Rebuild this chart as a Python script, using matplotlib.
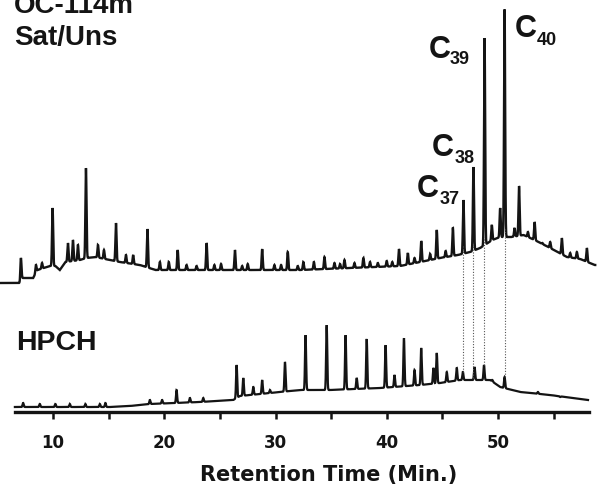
import numpy as np
import matplotlib
matplotlib.use("Agg")
import matplotlib.pyplot as plt

# ---------------- data (retention time in min, intensity in arbitrary units) -------------
# upper trace: OC-114m Sat/Uns
upper_base_t = [5.2, 7.0, 7.2, 8.2, 8.6, 9.7, 10.2, 10.6, 11.1, 12.4, 13.0, 13.8, 15.1, 16.0,
                17.8, 19.2, 32.2, 41.2, 44.8, 46.4, 47.5, 48.4, 49.5, 50.2, 51.2, 52.3, 53.3,
                54.7, 56.2, 57.4, 58.7]
upper_base_i = [128, 128, 133, 133, 141, 145, 145, 141, 149, 151, 153, 154, 151, 149,
                146, 141, 141, 145, 153, 156, 159, 163, 171, 174, 174, 176, 171,
                163, 154, 152, 146]
upper_peak_t = [7.1, 8.45, 9.0, 9.95, 11.33, 11.78, 12.23, 12.95, 14.03, 14.57, 15.65, 16.55,
                17.2, 18.48, 19.6, 20.4, 21.2, 22.0, 22.9, 23.8, 24.5, 25.1, 26.35, 27.0,
                27.5, 28.8, 29.9, 30.5, 31.1, 32.0, 32.5, 33.45, 34.4, 35.3, 35.8, 36.2,
                37.1, 37.9, 38.5, 39.2, 40.0, 40.5, 41.1, 41.9, 42.5, 43.1, 43.9, 44.5,
                45.3, 45.95, 46.9, 47.8, 48.8, 49.45, 50.2, 50.6, 51.5, 51.9, 52.7, 53.3,
                54.0, 54.7, 55.75, 56.5, 57.1, 58.0]
upper_peak_i = [153, 146, 148, 203, 168, 171, 166, 243, 166, 161, 188, 156,
                156, 182, 149, 149, 161, 146, 145, 168, 146, 147, 161, 145,
                147, 162, 146, 146, 159, 145, 149, 149, 154, 148, 147, 151,
                148, 153, 149, 148, 150, 149, 162, 158, 153, 170, 157, 181,
                160, 183, 211, 244, 373, 186, 203, 402, 183, 225, 179, 189,
                168, 169, 173, 158, 159, 163]

# lower trace: HPCH
lower_base_t = [6.56, 15.1, 16.9, 18.7, 23.2, 26.2, 26.8, 29.5, 32.2, 34.9, 39.4, 43.0, 44.8,
                46.6, 49.3, 50.2, 52.0, 54.7, 57.4, 58.1]
lower_base_i = [4, 4, 5, 7, 9, 11, 15, 18, 21, 21, 23, 26, 28,
                31, 31, 24, 19, 16, 12, 11]
lower_peak_t = [7.3, 8.8, 10.2, 11.5, 12.9, 14.2, 14.7, 18.7, 19.8, 21.1, 22.3, 23.5,
                26.5, 27.1, 28.0, 28.8, 29.5, 30.85, 32.7, 34.6, 36.3, 37.3, 38.2, 39.9,
                40.7, 41.55, 42.5, 43.1, 44.2, 44.5, 45.4, 46.3, 46.85, 47.9, 48.75, 49.5,
                50.6, 53.6, 55.6]
lower_peak_i = [8, 7, 7, 7, 7, 7, 8, 11, 11, 21, 13, 13,
                46, 33, 24, 31, 21, 49, 76, 86, 76, 33, 72, 66,
                36, 73, 41, 63, 43, 58, 39, 43, 39, 44, 46, 31,
                34, 19, 14]

# alkenone peaks linked between the traces
marker_t = [46.85, 47.8, 48.75, 50.6]
marker_labels = ["37", "38", "39", "40"]

xticks_major = [10, 20, 30, 40, 50]
xticks_minor = [15, 25, 35, 45, 55]

# ---------------- drawing -------------------------------------------------------------
W, H = 602, 493
fig = plt.figure(figsize=(W / 100, H / 100), dpi=100)
ax = fig.add_axes([0, 81 / H, 1, 412 / H])
ax.set_xlim(5.22, 59.36)
ax.set_ylim(-1, 411)

FONT = "Liberation Sans"
WIDE = "DejaVu Sans"
INK = "#141414"


def trace(base_t, base_i, peak_t, peak_i, t0, t1, sigma=0.05):
    t = np.linspace(t0, t1, 6000)
    y = np.interp(t, base_t, base_i)
    for tp, ip in zip(peak_t, peak_i):
        h = ip - np.interp(tp, base_t, base_i)
        y = y + h * np.exp(-0.5 * ((t - tp) / sigma) ** 2)
    return t, y


tu, yu = trace(upper_base_t, upper_base_i, upper_peak_t, upper_peak_i, 5.22, 58.75)
tl, yl = trace(lower_base_t, lower_base_i, lower_peak_t, lower_peak_i, 6.56, 58.1)

ax.plot(tu, yu, color=INK, lw=1.7, solid_joinstyle="miter")
ax.plot(tl, yl, color=INK, lw=1.6, solid_joinstyle="miter")

# dotted connectors
for tm in marker_t:
    ylow = np.interp(tm, tl, yl)
    yhigh = np.interp(tm, upper_base_t, upper_base_i) + 8
    ax.vlines(tm, ylow, yhigh, colors="#555555", linestyles=(0, (1, 1.5)), lw=0.8)

for s in ["left", "right", "top"]:
    ax.spines[s].set_visible(False)
ax.spines["bottom"].set_linewidth(2.4)
ax.spines["bottom"].set_color(INK)
ax.spines["bottom"].set_bounds(6.6, 58.2)
ax.set_yticks([])
ax.set_xticks(xticks_major)
ax.set_xticks(xticks_minor, minor=True)
ax.tick_params(axis="x", which="both", direction="out", length=5, width=1.8, color=INK)
ax.tick_params(axis="x", which="major", pad=11, labelsize=12)
for lab in ax.get_xticklabels():
    lab.set_fontfamily(WIDE)
    lab.set_fontweight("bold")
    lab.set_color(INK)


def ftext(x, y, s, size, family=FONT, **kw):
    fig.text(x / W, 1 - y / H, s, fontsize=size, fontfamily=family, fontweight="bold",
             color=INK, va="baseline", ha=kw.pop("ha", "left"), **kw)


ftext(329, 481, "Retention Time (Min.)", 15, family=WIDE, ha="center")
ftext(14, 13, "OC-114m", 20)
ftext(14, 45, "Sat/Uns", 20)
ftext(16, 350, "HPCH", 20.5)

label_pos = {"37": (417, 197, 440, 204), "38": (432, 156, 455, 163),
             "39": (429, 58, 450, 64), "40": (515, 37, 537, 45)}
for lab in marker_labels:
    cx, cy, sx, sy = label_pos[lab]
    ftext(cx, cy, "C", 22)
    ftext(sx, sy, lab, 13)

fig.savefig("out.png", dpi=100)
